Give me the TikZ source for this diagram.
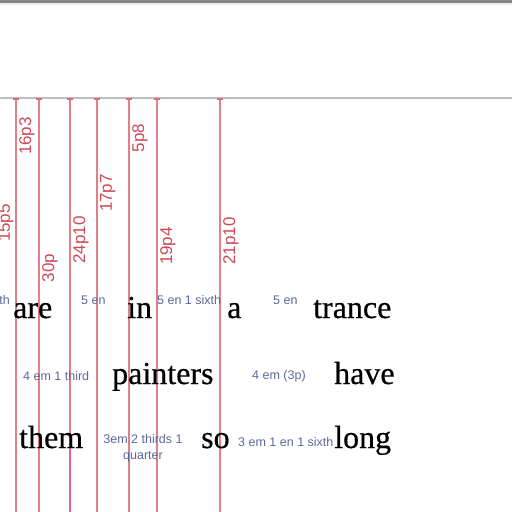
\documentclass[tikz,border=0pt]{standalone}
\usepackage{fontspec}
\setmainfont{Liberation Serif}[FakeBold=0.5]
\setsansfont{Liberation Sans}
\usepackage{tikz}
\definecolor{guia}{RGB}{226,128,136}
\definecolor{medida}{RGB}{208,72,86}
\definecolor{nota}{RGB}{92,104,156}
\definecolor{realce}{RGB}{230,96,160}
\definecolor{regua}{RGB}{190,190,190}

\begin{document}
\begin{tikzpicture}[x=1pt, y=-1pt,
    linhaG/.style={guia, line width=1.4pt},
    medidaG/.style={rotate=90, anchor=north, inner sep=0pt, text=medida, font=\sffamily\fontsize{17}{17}\selectfont},
    palavra/.style={anchor=base west, inner sep=0pt, font=\rmfamily\fontsize{32}{34}\selectfont},
    nota/.style={anchor=west, inner sep=0pt, text=nota, align=center, font=\sffamily\fontsize{12.5}{16}\selectfont}
  ]
    \useasboundingbox (0,0) rectangle (512,512);
    \clip (0,0) rectangle (512,512);

    % barra do topo e regua
    \fill[black!47] (0,0) rectangle (512,3);
    \fill[black!7] (0,3) rectangle (512,5);
    \coordinate (r0) at (0,98);
    \coordinate (r1) at (512,98);
    \draw[regua, line width=1.3pt] (r0) -- (r1);

    % guias verticais com as medidas
    \foreach \nome/\x/\y/\txt in {g0/-5/223/15p5, g1/16/136/16p3, g2/39/268/30p, g3/70/240/24p10,
                                 g4/97/193/17p7, g5/129/138/5p8, g6/157/246/19p4, g7/220/241/21p10} {
      \coordinate (\nome a) at (\x,99);
      \coordinate (\nome b) at (\x,512);
      \draw[linhaG] (\nome a) -- (\nome b);
      \draw[medida!80, line width=1.2pt] ([xshift=-3pt]\nome a) -- ([xshift=3pt]\nome a);
      \node[medidaG] (m\nome) at (\x+3,\y) {\txt};
    }
    \coordinate (p0) at (70,450);
    \draw[realce, line width=2pt] (p0) -- (g3b);

    % palavras
    \node[palavra] (are) at (13,318) {are};
    \node[palavra] (in) at (127,318) {in};
    \node[palavra] (a) at (227,318) {a};
    \node[palavra] (trance) at (313,318) {trance};
    \node[palavra] (painters) at (112,384) {painters};
    \node[palavra] (have) at (334,384) {have};
    \node[palavra] (them) at (19,448) {them};
    \node[palavra] (so) at (201,448) {so};
    \node[palavra] (long) at (334,448) {long};

    % espacos
    \node[nota, anchor=east] (e0) at (10,300) {th};
    \node[nota] (e1) at (81,300) {5 en};
    \node[nota] (e2) at (157,300) {5 en 1 sixth};
    \node[nota] (e3) at (273,300) {5 en};
    \node[nota] (e4) at (23,376) {4 em 1 third};
    \node[nota] (e5) at (252,376) {4 em (3p)};
    \node[nota, anchor=north] (e6) at (143,434) {3em 2 thirds 1\\quarter};
    \node[nota] (e7) at (238,442) {3 em 1 en 1 sixth};
  \end{tikzpicture}
\end{document}
